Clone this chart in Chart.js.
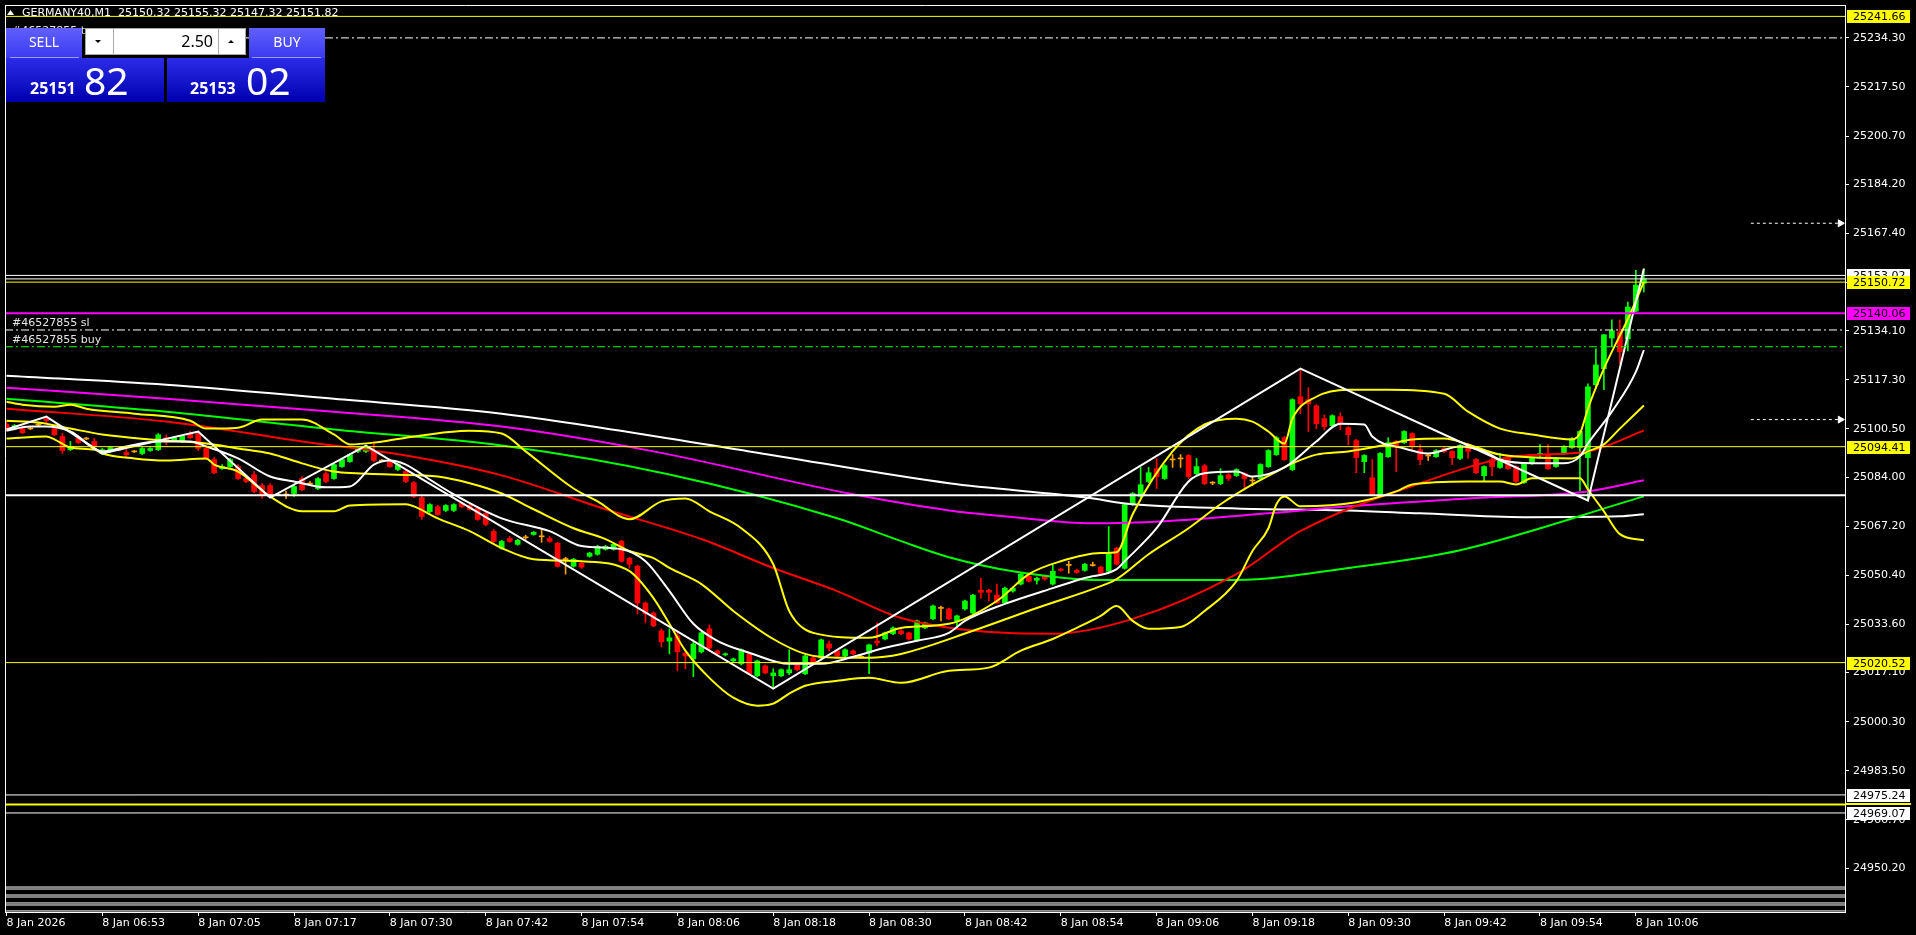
<!DOCTYPE html>
<html>
<head>
<meta charset="utf-8">
<script src="https://cdn.jsdelivr.net/npm/chart.js@4.4.1/dist/chart.umd.min.js"></script>
<style>
  html, body { margin: 0; padding: 0; background: #000; overflow: hidden; }
  #wrap { width: 1916px; height: 935px; }
</style>
</head>
<body>
<div id="wrap"><canvas id="chart" width="1916" height="935"></canvas></div>
<script>
const symbolTitle = "GERMANY40,M1  25150.32 25155.32 25147.32 25151.82"
const orderId = "#46527855"

const timeTickBars = [0, 12, 24, 36, 48, 60, 72, 84, 96, 108, 120, 132, 144, 156, 168, 180, 192, 204]
const timeLabels = ["8 Jan 2026", "8 Jan 06:53", "8 Jan 07:05", "8 Jan 07:17", "8 Jan 07:30", "8 Jan 07:42",
  "8 Jan 07:54", "8 Jan 08:06", "8 Jan 08:18", "8 Jan 08:30", "8 Jan 08:42", "8 Jan 08:54",
  "8 Jan 09:06", "8 Jan 09:18", "8 Jan 09:30", "8 Jan 09:42", "8 Jan 09:54", "8 Jan 10:06"]
const priceTicks = [25234.30, 25217.50, 25200.70, 25184.20, 25167.40, 25150.60, 25134.10, 25117.30, 25100.50,
  25084.00, 25067.20, 25050.40, 25033.60, 25017.10, 25000.30, 24983.50, 24966.70, 24950.20]

const barOpen = [
  25102.0, 25100.6, 25100.6, 25100.6, 25102.0, 25104.0, 25100.6, 25097.9, 25093.4, 25097.2,
  25097.2, 25096.2, 25092.1, 25092.8, 25093.4, 25092.4, 25092.8, 25092.1, 25093.1, 25093.4,
  25097.5, 25096.5, 25096.2, 25098.9, 25098.9, 25093.8, 25090.0, 25086.9, 25087.6, 25087.6,
  25083.5, 25084.8, 25081.1, 25081.1, 25078.0, 25078.0, 25078.4, 25083.5, 25081.8, 25080.1,
  25085.2, 25083.5, 25087.6, 25089.3, 25092.8, 25092.8, 25092.8, 25089.7, 25089.3, 25086.6,
  25085.9, 25082.1, 25077.0, 25072.2, 25073.9, 25072.6, 25072.6, 25075.0, 25074.3, 25073.3,
  25071.6, 25065.4, 25059.7, 25063.0, 25061.0, 25063.4, 25064.4, 25063.7, 25063.0, 25061.4,
  25055.9, 25053.5, 25054.5, 25056.9, 25057.6, 25059.3, 25059.3, 25062.0, 25056.2, 25053.5,
  25040.9, 25037.5, 25031.4, 25027.9, 25029.7, 25023.8, 25021.8, 25024.2, 25032.1, 25024.5,
  25023.2, 25021.1, 25020.1, 25023.5, 25016.0, 25019.4, 25016.0, 25016.0, 25017.0, 25019.7,
  25016.7, 25022.1, 25022.1, 25026.9, 25024.5, 25022.8, 25024.5, 25022.5, 25023.8, 25027.9,
  25028.6, 25030.4, 25031.4, 25030.7, 25028.3, 25032.4, 25035.5, 25039.2, 25038.9, 25034.8,
  25038.9, 25037.5, 25045.3, 25045.3, 25043.6, 25040.9, 25045.0, 25047.4, 25050.1, 25048.7,
  25050.1, 25047.4, 25052.5, 25053.9, 25052.1, 25052.1, 25053.9, 25053.2, 25051.8, 25059.7,
  25052.8, 25074.6, 25077.4, 25082.5, 25086.9, 25083.5, 25090.0, 25090.4, 25091.4, 25085.2,
  25087.9, 25082.1, 25081.8, 25084.8, 25084.5, 25085.2, 25082.8, 25083.5, 25087.6, 25091.7,
  25097.5, 25086.6, 25111.5, 25110.5, 25108.4, 25104.0, 25101.6, 25104.7, 25100.9, 25096.5,
  25089.3, 25083.8, 25078.0, 25091.0, 25096.2, 25095.8, 25098.9, 25093.4, 25091.4, 25091.0,
  25093.8, 25092.8, 25090.4, 25095.1, 25090.0, 25084.5, 25090.0, 25087.3, 25090.4, 25087.6,
  25082.1, 25088.6, 25091.7, 25091.7, 25087.6, 25092.1, 25094.1, 25094.1, 25090.7, 25115.6,
  25121.1, 25131.6, 25133.7, 25131.3, 25140.8, 25150.32
]
const barHigh = [
  25103.0, 25102.0, 25101.3, 25101.0, 25102.6, 25104.7, 25101.3, 25098.9, 25096.2, 25097.5,
  25097.6, 25097.2, 25093.8, 25094.5, 25093.8, 25094.1, 25093.1, 25094.1, 25094.1, 25098.9,
  25098.5, 25097.9, 25098.2, 25099.6, 25099.6, 25094.5, 25090.7, 25088.3, 25090.4, 25088.3,
  25084.2, 25085.9, 25081.8, 25081.8, 25078.4, 25079.1, 25081.1, 25084.2, 25082.5, 25083.8,
  25085.9, 25088.6, 25090.4, 25092.1, 25094.5, 25094.8, 25096.2, 25090.0, 25089.7, 25088.6,
  25086.6, 25082.5, 25077.4, 25074.9, 25074.3, 25074.6, 25074.9, 25075.4, 25074.6, 25073.6,
  25071.9, 25066.1, 25062.4, 25063.7, 25062.7, 25064.1, 25065.4, 25066.4, 25063.7, 25061.7,
  25056.6, 25056.2, 25054.9, 25058.3, 25060.7, 25060.7, 25061.4, 25062.4, 25056.6, 25053.9,
  25041.3, 25037.9, 25032.1, 25032.1, 25031.4, 25024.2, 25028.3, 25031.0, 25033.4, 25024.9,
  25023.8, 25022.1, 25025.2, 25023.8, 25021.4, 25019.7, 25018.4, 25018.4, 25024.9, 25020.1,
  25023.2, 25022.5, 25028.6, 25027.9, 25024.9, 25025.2, 25024.9, 25022.9, 25026.9, 25034.1,
  25031.0, 25032.8, 25031.8, 25031.0, 25035.1, 25034.4, 25040.2, 25039.9, 25039.2, 25036.8,
  25041.9, 25043.9, 25049.4, 25045.6, 25047.4, 25046.4, 25046.4, 25051.1, 25050.5, 25049.8,
  25050.5, 25053.9, 25052.8, 25055.2, 25052.5, 25054.5, 25054.9, 25053.5, 25067.1, 25060.0,
  25074.9, 25078.7, 25087.3, 25087.3, 25090.4, 25088.3, 25091.7, 25091.7, 25091.7, 25090.4,
  25088.3, 25082.5, 25086.9, 25085.2, 25086.9, 25085.5, 25084.2, 25088.6, 25093.4, 25097.9,
  25097.9, 25110.8, 25121.1, 25114.6, 25108.8, 25105.3, 25105.3, 25106.0, 25101.3, 25096.9,
  25091.7, 25090.0, 25092.4, 25097.5, 25096.5, 25099.9, 25099.2, 25095.1, 25091.7, 25093.4,
  25094.1, 25093.1, 25095.1, 25095.5, 25090.4, 25087.9, 25090.4, 25092.1, 25090.7, 25087.9,
  25089.0, 25090.7, 25095.1, 25095.1, 25090.7, 25094.8, 25097.5, 25099.9, 25115.9, 25127.9,
  25132.9, 25137.8, 25137.8, 25143.9, 25154.8, 25155.32
]
const barLow = [
  25099.9, 25100.2, 25098.9, 25100.2, 25101.4, 25102.6, 25098.2, 25092.1, 25093.1, 25095.5,
  25096.8, 25093.4, 25091.7, 25092.4, 25093.0, 25091.0, 25092.4, 25091.7, 25092.8, 25093.1,
  25095.1, 25096.2, 25095.8, 25097.2, 25093.1, 25090.0, 25085.2, 25086.6, 25087.3, 25083.2,
  25082.1, 25078.7, 25076.7, 25077.0, 25077.7, 25076.7, 25077.4, 25079.4, 25081.1, 25079.7,
  25082.1, 25083.2, 25087.3, 25089.0, 25092.4, 25092.4, 25089.3, 25089.3, 25087.3, 25086.2,
  25082.1, 25077.0, 25069.5, 25071.9, 25070.9, 25072.2, 25072.2, 25073.6, 25072.6, 25069.2,
  25067.4, 25061.7, 25059.3, 25061.7, 25060.7, 25062.7, 25064.1, 25061.7, 25061.7, 25053.2,
  25050.8, 25053.2, 25052.8, 25056.6, 25057.3, 25059.0, 25059.0, 25054.9, 25052.8, 25037.2,
  25034.1, 25032.8, 25025.9, 25023.5, 25017.7, 25018.4, 25015.7, 25023.8, 25024.5, 25023.2,
  25022.8, 25020.7, 25019.7, 25016.4, 25015.7, 25016.7, 25011.6, 25015.7, 25016.4, 25017.7,
  25016.4, 25019.7, 25021.8, 25024.5, 25022.5, 25022.5, 25023.2, 25022.1, 25016.7, 25026.2,
  25028.3, 25030.1, 25030.1, 25028.3, 25027.9, 25032.1, 25035.2, 25034.8, 25035.2, 25033.1,
  25038.5, 25037.2, 25042.6, 25041.6, 25040.9, 25040.6, 25044.6, 25047.1, 25048.1, 25047.4,
  25048.7, 25047.1, 25051.8, 25051.1, 25051.1, 25051.8, 25053.5, 25050.8, 25051.4, 25053.9,
  25052.5, 25074.3, 25077.0, 25082.1, 25080.1, 25083.2, 25087.3, 25087.3, 25083.5, 25084.8,
  25081.4, 25081.4, 25081.4, 25082.8, 25084.2, 25080.1, 25081.1, 25083.2, 25087.3, 25091.4,
  25089.7, 25086.2, 25105.7, 25099.6, 25100.6, 25100.2, 25101.3, 25100.2, 25095.1, 25085.5,
  25085.5, 25077.7, 25077.7, 25090.7, 25085.9, 25095.5, 25093.1, 25088.3, 25089.7, 25090.7,
  25092.4, 25088.3, 25090.0, 25090.4, 25085.2, 25082.5, 25084.5, 25087.0, 25086.6, 25082.1,
  25081.8, 25088.3, 25090.4, 25086.6, 25087.3, 25091.7, 25093.8, 25079.4, 25076.0, 25114.3,
  25113.9, 25128.6, 25122.8, 25127.2, 25140.5, 25147.32
]
const barClose = [
  25100.6, 25101.6, 25099.2, 25100.7, 25102.0, 25103.3, 25098.5, 25093.1, 25094.5, 25095.8,
  25097.2, 25094.5, 25093.4, 25094.1, 25093.4, 25091.7, 25092.8, 25093.8, 25093.8, 25098.5,
  25096.2, 25097.5, 25097.9, 25097.5, 25093.8, 25090.4, 25085.5, 25087.6, 25090.0, 25083.5,
  25082.5, 25079.1, 25078.0, 25077.4, 25078.0, 25078.1, 25080.8, 25079.7, 25081.8, 25083.5,
  25082.5, 25088.3, 25090.0, 25091.7, 25094.1, 25094.1, 25089.7, 25089.7, 25087.6, 25088.3,
  25082.5, 25077.4, 25070.5, 25074.6, 25071.2, 25074.3, 25074.6, 25073.9, 25072.9, 25069.5,
  25067.8, 25062.0, 25062.0, 25062.0, 25062.4, 25063.4, 25065.1, 25063.8, 25062.0, 25053.5,
  25056.0, 25055.9, 25053.2, 25058.0, 25060.3, 25060.3, 25061.0, 25055.2, 25054.2, 25040.9,
  25037.2, 25033.1, 25027.6, 25029.0, 25024.2, 25022.8, 25026.9, 25030.7, 25025.5, 25023.5,
  25023.5, 25021.8, 25024.9, 25016.7, 25021.1, 25017.0, 25017.0, 25018.1, 25018.1, 25018.1,
  25022.8, 25020.1, 25028.3, 25025.5, 25022.8, 25024.9, 25023.5, 25022.5, 25026.6, 25027.3,
  25030.7, 25032.4, 25030.4, 25028.6, 25034.8, 25034.1, 25039.9, 25039.3, 25035.5, 25036.5,
  25041.6, 25043.6, 25044.6, 25044.6, 25040.9, 25046.0, 25046.0, 25050.8, 25048.4, 25049.4,
  25049.1, 25051.8, 25052.1, 25054.0, 25051.4, 25054.2, 25053.9, 25051.1, 25057.6, 25054.2,
  25074.6, 25078.4, 25081.4, 25085.5, 25084.2, 25087.9, 25090.1, 25090.4, 25084.2, 25087.6,
  25081.8, 25082.1, 25084.5, 25083.5, 25086.6, 25083.5, 25082.9, 25088.3, 25093.1, 25097.5,
  25090.0, 25110.5, 25109.1, 25109.1, 25102.3, 25101.3, 25105.0, 25102.3, 25098.5, 25090.7,
  25091.4, 25078.0, 25092.1, 25095.8, 25094.8, 25099.6, 25094.5, 25090.0, 25091.4, 25093.1,
  25092.8, 25090.7, 25094.8, 25092.8, 25085.5, 25087.6, 25087.6, 25090.4, 25086.9, 25082.5,
  25088.6, 25090.4, 25092.1, 25086.9, 25090.4, 25094.5, 25097.2, 25099.6, 25114.9, 25122.4,
  25132.7, 25134.1, 25126.9, 25142.2, 25149.7, 25151.82
]

// indicators, sampled at bar indices
const maSlowBars = [0, 20, 41, 62, 93, 118, 135, 141, 154, 168, 177, 190, 202, 205]
const maSlowValues = [25118.7, 25115.6, 25110.8, 25105.7, 25092.8, 25081.9, 25077.1, 25074.7, 25073.3, 25072.6, 25071.6, 25070.3, 25070.6, 25071.3]

const maMagentaBars = [0, 20, 41, 62, 81, 106, 118, 125, 136, 145, 158, 168, 183, 198, 205]
const maMagentaValues = [25114.6, 25110.8, 25106.4, 25101.3, 25092.8, 25078.1, 25072.6, 25070.6, 25068.2, 25068.9, 25071.6, 25074.0, 25076.7, 25079.1, 25082.9]

const maGreenBars = [0, 20, 41, 62, 83, 104, 112, 118, 126, 137, 154, 168, 182, 205]
const maGreenValues = [25110.8, 25106.4, 25100.3, 25094.8, 25084.9, 25069.9, 25062.1, 25056.6, 25051.8, 25048.8, 25048.8, 25052.9, 25059.0, 25077.4]

const maRedBars = [0, 20, 37, 50, 62, 75, 87, 96, 104, 112, 125, 131, 141, 154, 162, 177, 189, 198, 205]
const maRedValues = [25107.4, 25103.0, 25096.2, 25091.4, 25084.6, 25073.0, 25062.8, 25052.9, 25045.0, 25035.8, 25030.7, 25030.4, 25035.5, 25050.8, 25065.5, 25081.9, 25091.1, 25092.8, 25099.9]

const zigzagBars = [0, 5, 12, 24, 33, 45, 96, 162, 198, 205]
const zigzagValues = [25100.3, 25104.7, 25092.1, 25099.6, 25077.0, 25094.8, 25011.6, 25121.1, 25076.0, 25155.32]

const maFastBars = [0, 3, 5, 8, 12, 15, 19, 23, 25, 29, 33, 36, 40, 43, 46, 48, 50, 52, 56, 62, 68, 72, 77, 80, 83, 86, 89, 93,
  98, 102, 106, 110, 114, 118, 120, 125, 131, 135, 139, 140, 144, 148, 150, 154, 156, 160, 164, 167, 170, 171, 175, 178,
  182, 185, 187, 191, 195, 197, 198, 201, 204, 205]
const maFastValues = [25099.9, 25101.3, 25101.3, 25099.6, 25092.8, 25094.5, 25096.2, 25096.2, 25094.5, 25090.4, 25084.2,
  25082.5, 25080.5, 25080.8, 25088.3, 25089.7, 25088.3, 25084.9, 25078.1, 25069.9, 25065.5, 25060.4, 25059.3, 25055.2,
  25045.0, 25033.8, 25028.0, 25023.9, 25020.1, 25020.1, 25022.5, 25025.6, 25028.0, 25030.7, 25034.8, 25040.6, 25046.0,
  25049.5, 25052.5, 25055.2, 25066.5, 25082.5, 25085.3, 25085.9, 25084.2, 25087.3, 25096.2, 25102.3, 25102.0, 25097.9,
  25093.8, 25092.1, 25094.5, 25092.8, 25090.0, 25088.7, 25088.7, 25091.1, 25095.5, 25106.4, 25120.0, 25127.5]

const bandUpperBars = [0, 2, 6, 8, 10, 16, 23, 25, 29, 32, 37, 41, 43, 46, 50, 58, 62, 65, 71, 74, 78, 82, 85, 88, 92, 96,
  98, 101, 108, 112, 118, 124, 128, 132, 137, 139, 141, 146, 150, 154, 156, 158, 160, 161, 164, 168, 173, 180, 183, 187,
  191, 196, 197, 198, 200, 203, 205]
const bandUpperValues = [25109.8, 25108.8, 25108.1, 25108.8, 25107.4, 25105.7, 25103.3, 25100.6, 25100.9, 25103.7,
  25103.7, 25098.6, 25095.2, 25095.8, 25097.5, 25099.9, 25098.9, 25092.8, 25080.1, 25075.7, 25069.6, 25075.7, 25076.7,
  25072.3, 25066.5, 25054.2, 25038.2, 25030.7, 25029.0, 25032.4, 25033.8, 25041.6, 25050.8, 25055.2, 25058.0, 25058.3,
  25071.3, 25092.8, 25102.0, 25104.0, 25103.0, 25099.6, 25095.5, 25104.0, 25111.5, 25113.9, 25113.9, 25112.5, 25106.4,
  25100.6, 25098.6, 25096.9, 25098.9, 25107.4, 25121.1, 25138.1, 25150.7]

const bandMiddleBars = [0, 4, 8, 12, 18, 25, 29, 33, 37, 41, 48, 54, 58, 62, 66, 71, 75, 78, 81, 83, 87, 91, 96, 100, 104,
  108, 112, 121, 129, 137, 139, 143, 148, 152, 156, 159, 161, 164, 168, 173, 176, 180, 183, 187, 196, 198, 200, 202, 205]
const bandMiddleValues = [25103.3, 25102.7, 25100.6, 25098.6, 25096.9, 25095.5, 25093.8, 25092.1, 25088.7, 25085.9,
  25084.9, 25084.2, 25081.9, 25078.4, 25073.0, 25066.5, 25062.8, 25058.7, 25056.3, 25052.9, 25047.4, 25038.2, 25028.6,
  25023.5, 25022.2, 25022.2, 25023.5, 25031.4, 25039.2, 25046.7, 25049.1, 25057.6, 25066.5, 25074.7, 25081.5, 25085.9,
  25088.7, 25091.7, 25092.8, 25095.2, 25096.9, 25097.2, 25095.2, 25091.7, 25090.4, 25092.8, 25095.2, 25100.6, 25108.5]

const bandLowerBars = [0, 5, 6, 8, 11, 12, 16, 20, 25, 26, 29, 33, 37, 41, 43, 50, 51, 54, 58, 62, 66, 72, 78, 81, 83, 85,
  88, 91, 94, 96, 98, 100, 104, 108, 112, 118, 123, 127, 131, 134, 137, 139, 141, 143, 147, 150, 154, 156, 158, 159, 160,
  162, 169, 174, 176, 183, 187, 189, 191, 197, 198, 200, 202, 205]
const bandLowerValues = [25097.2, 25097.9, 25096.9, 25094.1, 25093.4, 25092.1, 25090.4, 25089.7, 25090.4, 25088.3,
  25085.9, 25077.4, 25072.3, 25072.3, 25074.3, 25074.7, 25074.0, 25069.9, 25065.5, 25059.7, 25055.9, 25055.2, 25051.8,
  25042.6, 25033.8, 25024.6, 25015.3, 25008.5, 25005.8, 25006.5, 25009.9, 25012.6, 25014.3, 25015.3, 25013.6, 25017.7,
  25018.8, 25024.6, 25028.6, 25032.4, 25036.5, 25039.9, 25034.8, 25032.1, 25032.7, 25038.2, 25048.4, 25058.7, 25066.5,
  25074.7, 25077.4, 25074.0, 25075.4, 25079.1, 25081.5, 25082.5, 25082.5, 25081.5, 25083.6, 25083.6, 25079.8, 25072.3,
  25064.5, 25062.4]

// horizontal objects / order lines
const tpLevel = 25234.30
const slLevel = 25134.35
const buyLevel = 25128.60
const askLevel = 25153.02
const bidLevel = 25151.82
const yellowLevels = [25241.66, 25150.72, 25094.41, 25020.52]
const yellowThickLevel = 24972.00
const magentaLevel = 25140.06
const whiteThickLevel = 25077.75
const whiteLevels = [24975.24, 24969.07, 24943.72, 24943.04, 24940.99, 24940.31, 24938.27, 24937.58, 24935.54]
const alertLevels = [25170.87, 25103.68]
const alertFromBar = 218.4
const alertToBar = 229.6

// ---- view ----
const X_MIN = -0.1875
const X_MAX = 230.1875
const Y_MAX = 25245.555
const Y_MIN = 24935.18
const FONT = '"DejaVu Sans", sans-serif'

const UP = "#00ff00"
const DOWN = "#ff0000"
const DOJI = "#ffa000"

const barIdx = barOpen.map((_, i) => i)
const candleColors = barIdx.map((i) => {
  const d = barClose[i] - barOpen[i]
  if (Math.abs(d) < 0.15) return DOJI
  return d > 0 ? UP : DOWN
})
const wickData = barIdx.map((i) => ({ x: i, y: [barLow[i], barHigh[i]] }))
const bodyData = barIdx.map((i) => {
  let lo = Math.min(barOpen[i], barClose[i])
  let hi = Math.max(barOpen[i], barClose[i])
  if (hi - lo < 0.34) {
    const mid = (hi + lo) / 2
    lo = mid - 0.17
    hi = mid + 0.17
  }
  return { x: i, y: [lo, hi] }
})

function pts(bars, values) {
  return bars.map((b, i) => ({ x: b, y: values[i] }))
}

function indicator(bars, values, color, order, straight) {
  return {
    type: "line",
    data: pts(bars, values),
    borderColor: color,
    borderWidth: 2,
    pointRadius: 0,
    cubicInterpolationMode: straight ? "default" : "monotone",
    tension: 0,
    order
  }
}

function level(value, color, width, dash, order) {
  return {
    type: "line",
    data: [{ x: X_MIN, y: value }, { x: X_MAX, y: value }],
    borderColor: color,
    borderWidth: width,
    borderDash: dash || [],
    pointRadius: 0,
    order
  }
}

const datasets = [
  { type: "bar", data: wickData, backgroundColor: candleColors, barThickness: 1, grouped: false, order: 100 },
  { type: "bar", data: bodyData, backgroundColor: candleColors, barThickness: 5, grouped: false, order: 99 },

  indicator(maSlowBars, maSlowValues, "#ffffff", 60),
  indicator(maMagentaBars, maMagentaValues, "#ff00ff", 59),
  indicator(maGreenBars, maGreenValues, "#00ff00", 58),
  indicator(maRedBars, maRedValues, "#ff0000", 57),
  indicator(bandUpperBars, bandUpperValues, "#ffff00", 56),
  indicator(bandMiddleBars, bandMiddleValues, "#ffff00", 55),
  indicator(bandLowerBars, bandLowerValues, "#ffff00", 54),
  indicator(maFastBars, maFastValues, "#ffffff", 53),
  indicator(zigzagBars, zigzagValues, "#ffffff", 52, true),

  level(tpLevel, "#ffffff", 1, [8, 3, 2, 3], 20),
  level(slLevel, "#ffffff", 1, [8, 3, 2, 3], 20),
  level(buyLevel, "#00ff00", 1, [8, 3, 2, 3], 20),
  level(askLevel, "#ffffff", 1, null, 20),
  level(bidLevel, "#ffffff", 1, null, 20),
  level(magentaLevel, "#ff00ff", 2, null, 20),
  level(whiteThickLevel, "#ffffff", 2, null, 20),
  level(yellowThickLevel, "#ffff00", 2, null, 20),
  ...yellowLevels.map((v) => level(v, "#ffff00", 1, null, 19)),
  ...whiteLevels.map((v) => level(v, "#ffffff", 1, null, 19)),

  ...alertLevels.map((v) => ({
    type: "line",
    data: [{ x: alertFromBar, y: v }, { x: alertToBar, y: v }],
    borderColor: "#ffffff",
    borderWidth: 1,
    borderDash: [3, 3],
    pointRadius: [0, 4],
    pointStyle: "triangle",
    rotation: 90,
    pointBackgroundColor: "#ffffff",
    pointBorderColor: "#ffffff",
    order: 5
  }))
]

function priceBox(c, y, area, value, bg, fg) {
  const py = Math.round(y.getPixelForValue(value))
  c.fillStyle = bg
  c.fillRect(area.right + 2, py - 6, 63, 13)
  c.fillStyle = fg
  c.font = "11px " + FONT
  c.textAlign = "left"
  c.textBaseline = "middle"
  c.fillText(value.toFixed(2), area.right + 8, py + 1)
}

function orderText(c, y, value, text) {
  const py = y.getPixelForValue(value)
  c.fillStyle = "#e6e6e6"
  c.font = "11px " + FONT
  c.textAlign = "left"
  c.textBaseline = "middle"
  c.fillText(text, 12, py - 7)
}

function drawTradePanel(c) {
  let g = c.createLinearGradient(0, 28, 0, 58)
  g.addColorStop(0, "#6060ff")
  g.addColorStop(1, "#3a3af0")
  c.fillStyle = g
  c.fillRect(6, 28, 76, 30)
  c.fillRect(249, 28, 76, 30)

  g = c.createLinearGradient(0, 58, 0, 102)
  g.addColorStop(0, "#2c2ce8")
  g.addColorStop(1, "#0000b0")
  c.fillStyle = g
  c.fillRect(6, 58, 158, 44)
  c.fillRect(167, 58, 158, 44)

  c.strokeStyle = "#9a9aff"
  c.lineWidth = 1
  c.beginPath()
  c.moveTo(10, 57.5); c.lineTo(79, 57.5)
  c.moveTo(252, 57.5); c.lineTo(321, 57.5)
  c.stroke()

  // lot size box
  c.fillStyle = "#ffffff"
  c.fillRect(85, 28, 161, 27)
  c.strokeStyle = "#a8a8a8"
  c.strokeRect(85.5, 28.5, 160, 26)
  c.beginPath()
  c.moveTo(113.5, 29); c.lineTo(113.5, 54)
  c.moveTo(218.5, 29); c.lineTo(218.5, 54)
  c.stroke()
  c.fillStyle = "#000"
  c.beginPath()
  c.moveTo(95, 40); c.lineTo(101, 40); c.lineTo(98, 43); c.closePath()
  c.moveTo(228, 43); c.lineTo(234, 43); c.lineTo(231, 40); c.closePath()
  c.fill()

  c.textBaseline = "middle"
  c.textAlign = "right"
  c.font = '16px "Noto Sans", sans-serif'
  c.fillText("2.50", 213, 42)

  c.fillStyle = "#ffffff"
  c.textAlign = "center"
  c.font = '14px "Noto Sans", sans-serif'
  c.fillText("SELL", 44, 43)
  c.fillText("BUY", 287, 43)

  c.textAlign = "left"
  c.textBaseline = "alphabetic"
  c.font = 'bold 16px "Noto Sans", sans-serif'
  c.fillText("25151", 30, 94)
  c.fillText("25153", 190, 94)
  c.font = '39px "Noto Sans", sans-serif'
  c.fillText("82", 84, 95)
  c.fillText("02", 246, 95)
}

const mt4Overlay = {
  id: "mt4Overlay",
  beforeDraw(chart) {
    const c = chart.ctx
    c.save()
    c.fillStyle = "#000"
    c.fillRect(0, 0, chart.width, chart.height)
    c.restore()
  },
  afterDraw(chart) {
    const c = chart.ctx
    const y = chart.scales.y
    const area = chart.chartArea
    c.save()

    // frame
    c.strokeStyle = "#ffffff"
    c.lineWidth = 1
    c.beginPath()
    c.moveTo(area.left + 0.5, area.top + 0.5)
    c.lineTo(area.right, area.top + 0.5)
    c.moveTo(area.left + 0.5, area.top)
    c.lineTo(area.left + 0.5, area.bottom)
    c.stroke()

    // yellow 2px line crossing into the price scale
    const ty = Math.round(y.getPixelForValue(yellowThickLevel))
    c.fillStyle = "#ffff00"
    c.fillRect(area.right, ty - 1, 66, 2)

    // price labels on the scale
    priceBox(c, y, area, yellowLevels[0], "#ffff00", "#000")
    priceBox(c, y, area, askLevel, "#ffffff", "#000")
    priceBox(c, y, area, yellowLevels[1], "#ffff00", "#000")
    priceBox(c, y, area, magentaLevel, "#ff00ff", "#000")
    priceBox(c, y, area, yellowLevels[2], "#ffff00", "#000")
    priceBox(c, y, area, yellowLevels[3], "#ffff00", "#000")
    priceBox(c, y, area, whiteLevels[0], "#ffffff", "#000")
    priceBox(c, y, area, whiteLevels[1], "#ffffff", "#000")

    // order labels
    orderText(c, y, tpLevel, orderId + " tp")
    orderText(c, y, slLevel, orderId + " sl")
    orderText(c, y, buyLevel, orderId + " buy")

    // symbol title
    c.fillStyle = "#ffffff"
    c.beginPath()
    c.moveTo(7, 15); c.lineTo(14, 15); c.lineTo(10.5, 10); c.closePath()
    c.fill()
    c.font = "11px " + FONT
    c.textAlign = "left"
    c.textBaseline = "middle"
    c.fillText(symbolTitle, 22, 13)

    drawTradePanel(c)
    c.restore()
  }
}

new Chart(document.getElementById("chart"), {
  type: "bar",
  data: { datasets },
  options: {
    responsive: false,
    animation: false,
    devicePixelRatio: 1,
    events: [],
    layout: { padding: { top: 2, left: 2, right: 0, bottom: 0 } },
    plugins: { legend: { display: false }, tooltip: { enabled: false } },
    scales: {
      x: {
        type: "linear",
        min: X_MIN,
        max: X_MAX,
        offset: false,
        afterBuildTicks: (s) => { s.ticks = timeTickBars.map((v) => ({ value: v })) },
        afterFit: (s) => { s.height = 23; s.paddingLeft = 0; s.paddingRight = 0 },
        ticks: {
          autoSkip: false,
          maxRotation: 0,
          minRotation: 0,
          align: "start",
          padding: 1,
          color: "#ffffff",
          font: { family: FONT, size: 11 },
          callback: (v) => timeLabels[timeTickBars.indexOf(v)]
        },
        grid: { display: true, offset: false, drawOnChartArea: false, drawTicks: true, tickLength: 4, color: "#ffffff" },
        border: { display: true, color: "#ffffff" }
      },
      y: {
        type: "linear",
        position: "right",
        min: Y_MIN,
        max: Y_MAX,
        afterBuildTicks: (s) => { s.ticks = priceTicks.map((v) => ({ value: v })) },
        afterFit: (s) => { s.width = 71; s.paddingTop = 0; s.paddingBottom = 0 },
        ticks: {
          padding: 4,
          color: "#ffffff",
          font: { family: FONT, size: 11 },
          callback: (v) => v.toFixed(2)
        },
        grid: { display: true, drawOnChartArea: false, drawTicks: true, tickLength: 4, color: "#ffffff" },
        border: { display: true, color: "#ffffff" }
      }
    }
  },
  plugins: [mt4Overlay]
})
</script>
</body>
</html>
